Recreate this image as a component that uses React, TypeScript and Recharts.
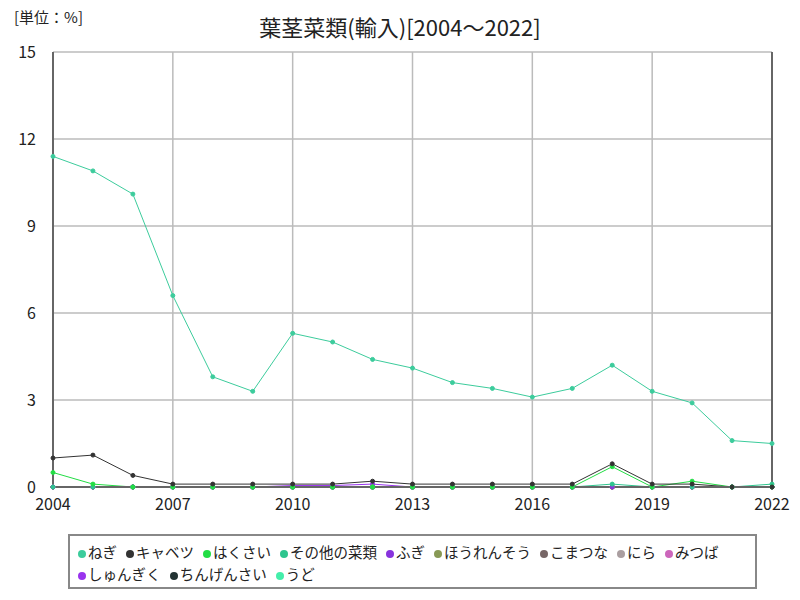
import React from "react";
import {
  LineChart,
  Line,
  XAxis,
  YAxis,
  CartesianGrid,
  ReferenceLine,
} from "recharts";

const years = [
  2004, 2005, 2006, 2007, 2008, 2009, 2010, 2011, 2012, 2013, 2014, 2015,
  2016, 2017, 2018, 2019, 2020, 2021, 2022,
];

const negi = [11.4, 10.9, 10.1, 6.6, 3.8, 3.3, 5.3, 5.0, 4.4, 4.1, 3.6, 3.4, 3.1, 3.4, 4.2, 3.3, 2.9, 1.6, 1.5];
const cabbage = [1.0, 1.1, 0.4, 0.1, 0.1, 0.1, 0.1, 0.1, 0.2, 0.1, 0.1, 0.1, 0.1, 0.1, 0.8, 0.1, 0.1, 0, 0];
const hakusai = [0.5, 0.1, 0, 0, 0, 0, 0, 0, 0, 0, 0, 0, 0, 0, 0.7, 0, 0.2, 0, 0];
const sonota = [0, 0, 0, 0, 0, 0, 0, 0, 0, 0, 0, 0, 0, 0, 0.1, 0, 0, 0, 0.1];
const fugi = [0, 0, 0, 0, 0, 0, 0, 0, 0, 0, 0, 0, 0, 0, 0, 0, 0, 0, 0];
const hourensou = [0, 0, 0, 0, 0, 0, 0, 0, 0, 0, 0, 0, 0, 0, 0, 0, 0, 0, 0];
const komatsuna = [0, 0, 0, 0, 0, 0, 0, 0, 0, 0, 0, 0, 0, 0, 0, 0, 0, 0, 0];
const nira = [0, 0, 0, 0, 0, 0, 0, 0, 0, 0, 0, 0, 0, 0, 0, 0, 0, 0, 0];
const mitsuba = [0, 0, 0, 0, 0, 0, 0, 0, 0, 0, 0, 0, 0, 0, 0, 0, 0, 0, 0];
const shungiku = [0, 0, 0, 0, 0, 0, 0.05, 0.05, 0.1, 0, 0, 0, 0, 0, 0, 0, 0, 0, 0];
const chingensai = [0, 0, 0, 0, 0, 0, 0, 0, 0, 0, 0, 0, 0, 0, 0, 0, 0, 0, 0];
const udo = [0, 0, 0, 0, 0, 0, 0, 0, 0, 0, 0, 0, 0, 0, 0, 0, 0, 0, 0];

const xTicks = [2004, 2007, 2010, 2013, 2016, 2019, 2022];
const yTicks = [0, 3, 6, 9, 12, 15];

const series = [
  { key: "negi", name: "ねぎ", values: negi, color: "#3ccc9c" },
  { key: "cabbage", name: "キャベツ", values: cabbage, color: "#333333" },
  { key: "hakusai", name: "はくさい", values: hakusai, color: "#22dd44" },
  { key: "sonota", name: "その他の菜類", values: sonota, color: "#2ec58e" },
  { key: "fugi", name: "ふぎ", values: fugi, color: "#8833dd" },
  { key: "hourensou", name: "ほうれんそう", values: hourensou, color: "#889955" },
  { key: "komatsuna", name: "こまつな", values: komatsuna, color: "#776666" },
  { key: "nira", name: "にら", values: nira, color: "#aa9ea0" },
  { key: "mitsuba", name: "みつば", values: mitsuba, color: "#cc66bb" },
  { key: "shungiku", name: "しゅんぎく", values: shungiku, color: "#9933ee" },
  { key: "chingensai", name: "ちんげんさい", values: chingensai, color: "#223333" },
  { key: "udo", name: "うど", values: udo, color: "#44eeaa" },
];

const data = years.map((year, i) => {
  const row: Record<string, number> = { year };
  for (const s of series) row[s.key] = s.values[i];
  return row;
});

const FONT = "'Noto Sans CJK JP', 'Noto Sans', sans-serif";

function LegendBox() {
  return (
    <div
      style={{
        position: "absolute",
        left: 68,
        top: 534,
        border: "2px solid #888",
        padding: "5px 8px",
        fontSize: 14.5,
        lineHeight: "22px",
        color: "#222",
        display: "flex",
        flexWrap: "wrap",
        boxSizing: "border-box",
        width: 689,
        height: 55,
      }}
    >
      {series.map((s) => (
        <span key={s.key} style={{ marginRight: 9, whiteSpace: "nowrap" }}>
          <span
            style={{
              display: "inline-block",
              width: 8,
              height: 8,
              borderRadius: 4,
              background: s.color,
              marginRight: 2,
              verticalAlign: "middle",
            }}
          />
          {s.name}
        </span>
      ))}
    </div>
  );
}

export default function App() {
  return (
    <div
      style={{
        position: "absolute",
        left: 0,
        top: 0,
        width: 800,
        height: 600,
        background: "#fff",
        fontFamily: FONT,
      }}
    >
      <div style={{ position: "absolute", left: 14, top: 6, fontSize: 15, color: "#222" }}>
        [単位：%]
      </div>
      <div
        style={{
          position: "absolute",
          left: 0,
          width: 800,
          top: 10,
          textAlign: "center",
          fontSize: 22,
          color: "#222",
        }}
      >
        葉茎菜類(輸入)[2004〜2022]
      </div>
      <LineChart
        width={800}
        height={600}
        data={data}
        margin={{ top: 52, right: 28, bottom: 83, left: 0 }}
        style={{ fontFamily: FONT }}
      >
        <CartesianGrid stroke="#bbbbbb" strokeWidth={1.5} />
        <XAxis
          dataKey="year"
          type="number"
          domain={[2004, 2022]}
          ticks={xTicks}
          tickSize={0}
          tickMargin={12}
          tick={{ fill: "#222", fontSize: 16 }}
          axisLine={{ stroke: "#666", strokeWidth: 2 }}
          height={30}
        />
        <YAxis
          domain={[0, 15]}
          ticks={yTicks}
          width={53}
          tickSize={0}
          tickMargin={17}
          tick={{ fill: "#222", fontSize: 16 }}
          axisLine={{ stroke: "#666", strokeWidth: 2 }}
        />
        <ReferenceLine x={2022} stroke="#666" strokeWidth={2} />
        {series
          .slice()
          .reverse()
          .map((s) => (
            <Line
              key={s.key}
              dataKey={s.key}
              name={s.name}
              stroke={s.color}
              strokeWidth={1}
              dot={{ r: 2, fill: s.color, stroke: s.color, strokeWidth: 1 }}
              isAnimationActive={false}
            />
          ))}
      </LineChart>
      <LegendBox />
    </div>
  );
}
